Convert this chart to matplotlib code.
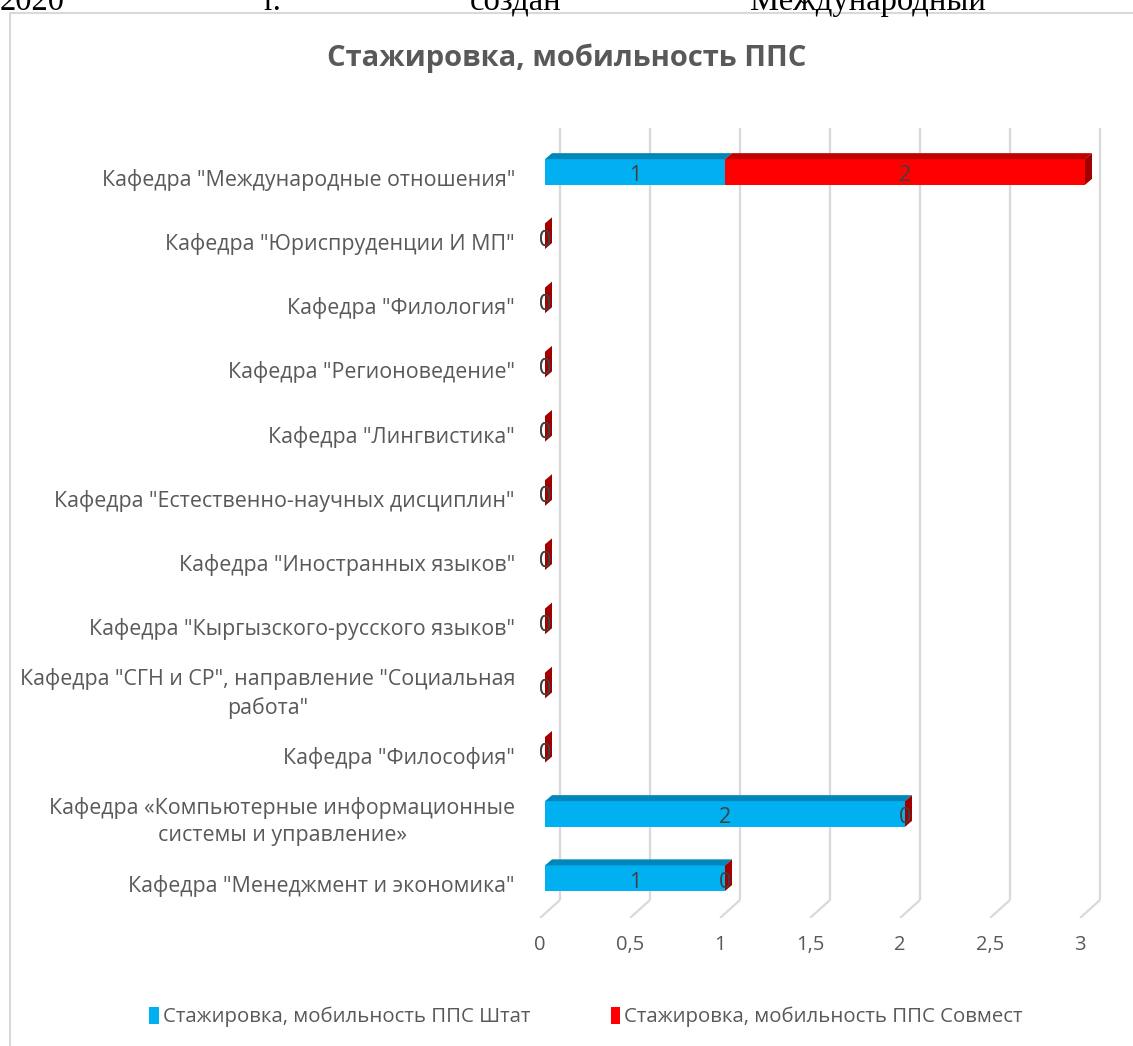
import matplotlib
matplotlib.use('Agg')
import matplotlib.pyplot as plt
from matplotlib.patches import Polygon, Rectangle, Patch

categories = [
    'Кафедра "Международные отношения"',
    'Кафедра "Юриспруденции И МП"',
    'Кафедра "Филология"',
    'Кафедра "Регионоведение"',
    'Кафедра "Лингвистика"',
    'Кафедра "Естественно-научных дисциплин"',
    'Кафедра "Иностранных языков"',
    'Кафедра "Кыргызского-русского языков"',
    'Кафедра "СГН и СР", направление "Социальная\nработа"',
    'Кафедра "Философия"',
    'Кафедра «Компьютерные информационные\nсистемы и управление»',
    'Кафедра "Менеджмент и экономика"',
]
shtat = [1, 0, 0, 0, 0, 0, 0, 0, 0, 0, 2, 1]
sovmest = [2, 0, 0, 0, 0, 0, 0, 0, 0, 0, 0, 0]
x_ticks = [0, 0.5, 1, 1.5, 2, 2.5, 3]
x_tick_labels = ['0', '0,5', '1', '1,5', '2', '2,5', '3']
series_names = ['Стажировка, мобильность ППС Штат', 'Стажировка, мобильность ППС Совмест']
title = 'Стажировка, мобильность ППС'

plt.rcParams['font.family'] = ['Open Sans', 'DejaVu Sans']

W, H = 1133, 1046
fig = plt.figure(figsize=(W / 100, H / 100), dpi=100)

# chart border (part of a document page)
fig.patches.append(Rectangle((10 / W, -0.1), 1.2, 1 - 13 / H + 0.1, transform=fig.transFigure,
                             fill=False, edgecolor='#D9D9D9', linewidth=1.5))

# cut-off document text at the top
for word, xp in [('2020', 0), ('г.', 263), ('создан', 470), ('Международный', 750)]:
    fig.text(xp / W, 1 - 10 / H, word, family='Liberation Serif', fontsize=23.5,
             color='black', ha='left', va='baseline')

# axes: value 0 at px 545, 3 at 1085 ; category i centre at px 172 + 64.2 i
px_per_unit = 180.0
px_per_cat = 64.2
x_lo, x_hi = -0.1, 3.1
left_px = 545 + x_lo * px_per_unit
right_px = 545 + x_hi * px_per_unit
top_px, bot_px = 128, 918
y_top = (top_px - 172) / px_per_cat
y_bot = (bot_px - 172) / px_per_cat
ax = fig.add_axes([left_px / W, 1 - bot_px / H, (right_px - left_px) / W, (bot_px - top_px) / H])
ax.set_xlim(x_lo, x_hi)
ax.set_ylim(y_bot, y_top)
ax.axis('off')

ux = 1 / px_per_unit
uy = 1 / px_per_cat

# gridlines (back wall + floor diagonal)
grid_c = '#D9D9D9'
for v in x_ticks:
    bx = v + 15 * ux
    fx = v - 5 * ux
    y_back_bottom = (900 - 172) * uy
    ax.plot([bx, bx], [y_top, y_back_bottom], color=grid_c, lw=1.6, zorder=0, solid_capstyle='butt')
    ax.plot([bx, fx], [y_back_bottom, y_bot], color=grid_c, lw=1.6, zorder=0, solid_capstyle='butt')

for v, lab in zip(x_ticks, x_tick_labels):
    ax.text(v - 5 * ux, (945 - 172) * uy, lab, ha='center', va='center', fontsize=14.5,
            color='#595959', clip_on=False)

blue, blue_top = '#00B0F0', '#0086B8'
red, red_top, red_side = '#FF0000', '#C00000', '#A00000'
bh = 0.40
dx = 7 * ux
dy = 6 * uy

ys = list(range(len(categories)))
ax.barh(ys, shtat, height=bh, color=blue, zorder=2)
ax.barh(ys, sovmest, left=shtat, height=bh, color=red, zorder=2)

for i in ys:
    b, r = shtat[i], sovmest[i]
    top = i - bh / 2
    bottom = i + bh / 2
    # top faces
    if b > 0:
        ax.add_patch(Polygon([(0, top), (b, top), (b + dx, top - dy), (dx, top - dy)],
                             closed=True, facecolor=blue_top, edgecolor='none', zorder=2))
    if r > 0:
        ax.add_patch(Polygon([(b, top), (b + r, top), (b + r + dx, top - dy), (b + dx, top - dy)],
                             closed=True, facecolor=red_top, edgecolor='none', zorder=2))
    end = b + r
    ax.add_patch(Polygon([(end, top), (end, bottom), (end + dx, bottom - dy), (end + dx, top - dy)],
                         closed=True, facecolor=red_side, edgecolor='none', zorder=2))
    # data labels
    ax.text(b / 2, i + 0.06, str(b), ha='center', va='center', fontsize=15.5, color='#404040', zorder=3)
    ax.text(b + r / 2, i + 0.06, str(r), ha='center', va='center', fontsize=15.5, color='#404040', zorder=3)
    # category labels
    ax.text(-30 * ux, i + 0.12, categories[i], ha='right', va='center', fontsize=15.4,
            color='#595959', multialignment='center', linespacing=1.4, clip_on=False)

fig.text(0.5, 1 - 58 / H, title, ha='center', va='center', fontsize=21, fontweight='bold',
         color='#595959')

handles = [Patch(facecolor=blue, edgecolor='none'), Patch(facecolor=red, edgecolor='none')]
fig.legend(handles, series_names, loc='center', bbox_to_anchor=(586 / W, 1 - 1017 / H), ncol=2,
           frameon=False, fontsize=14.7, labelcolor='#595959', handlelength=0.45, handleheight=0.95,
           handletextpad=0.2, columnspacing=3.95)

fig.savefig('out.png', dpi=100)
